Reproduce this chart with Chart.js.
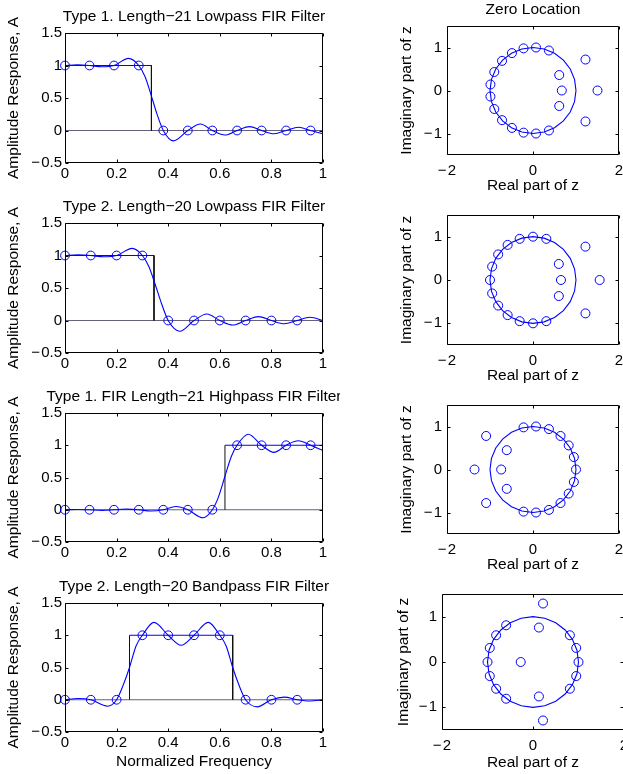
<!DOCTYPE html>
<html>
<head>
<meta charset="utf-8">
<title>FIR filter types - amplitude response and zero locations</title>
<script src="https://cdn.jsdelivr.net/npm/chart.js@4.4.1/dist/chart.umd.min.js"></script>
<style>
  html, body { margin: 0; padding: 0; background: #fff; }
  body { width: 623px; height: 774px; overflow: hidden; position: relative; }
  canvas { position: absolute; }
</style>
</head>
<body>
<canvas id="amp1" width="340" height="215" style="left:0;top:-7px"></canvas>
<canvas id="amp2" width="340" height="215" style="left:0;top:183px"></canvas>
<canvas id="amp3" width="340" height="215" style="left:0;top:373px"></canvas>
<canvas id="amp4" width="340" height="215" style="left:0;top:563px"></canvas>
<canvas id="zero1" width="260" height="215" style="left:380px;top:-14px"></canvas>
<canvas id="zero2" width="260" height="215" style="left:380px;top:175px"></canvas>
<canvas id="zero3" width="260" height="215" style="left:380px;top:365px"></canvas>
<canvas id="zero4" width="260" height="215" style="left:380px;top:554px"></canvas>
<script>
/* ---------- eixos / rótulos ---------- */
const freqTicks = [0, 0.2, 0.4, 0.6, 0.8, 1];
const ampTicks  = [-0.5, 0, 0.5, 1, 1.5];
const reTicks   = [-2, 0, 2];
const imTicks   = [-1, 0, 1];

/* linha de zero (referência) */
const baselineX = [0, 1];
const baselineY = [0, 0];

/* ---------- Type 1, Length-21 Lowpass ---------- */
const lp21SampleX = [0, 0.095, 0.19, 0.286, 0.381, 0.476, 0.571, 0.667, 0.762, 0.857, 0.952];
const lp21SampleY = [1, 1, 1, 1, 0, 0, 0, 0, 0, 0, 0];
const lp21RespX = [0, 0.048, 0.095, 0.143, 0.19, 0.246, 0.286, 0.31, 0.335, 0.356, 0.381, 0.42, 0.476, 0.525, 0.571, 0.62, 0.667, 0.715, 0.762, 0.81, 0.857, 0.905, 0.952, 1];
const lp21RespY = [1, 1.01, 1, 0.98, 1, 1.11, 1, 0.83, 0.53, 0.26, 0, -0.16, 0, 0.1, 0, -0.07, 0, 0.06, 0, -0.05, 0, 0.05, 0, -0.05];
const lp21IdealX = [0, 0.335, 0.335];
const lp21IdealY = [1, 1, 0];

/* ---------- Type 2, Length-20 Lowpass ---------- */
const lp20SampleX = [0, 0.1, 0.2, 0.3, 0.4, 0.5, 0.6, 0.7, 0.8, 0.9];
const lp20SampleY = [1, 1, 1, 1, 0, 0, 0, 0, 0, 0];
const lp20RespX = [0, 0.05, 0.1, 0.15, 0.2, 0.26, 0.3, 0.325, 0.35, 0.375, 0.4, 0.445, 0.5, 0.55, 0.6, 0.65, 0.7, 0.75, 0.8, 0.85, 0.9, 0.95, 1];
const lp20RespY = [1, 1.01, 1, 0.98, 1, 1.11, 1, 0.83, 0.55, 0.25, 0, -0.165, 0, 0.1, 0, -0.07, 0, 0.06, 0, -0.05, 0, 0.05, 0];
const lp20IdealX = [0, 0.345, 0.345];
const lp20IdealY = [1, 1, 0];

/* ---------- Type 1, Length-21 Highpass ---------- */
const hp21SampleX = [0, 0.095, 0.19, 0.286, 0.381, 0.476, 0.571, 0.667, 0.762, 0.857, 0.952];
const hp21SampleY = [0, 0, 0, 0, 0, 0, 0, 1, 1, 1, 1];
const hp21RespX = [0, 0.048, 0.095, 0.143, 0.19, 0.238, 0.286, 0.333, 0.381, 0.43, 0.476, 0.535, 0.571, 0.595, 0.62, 0.645, 0.667, 0.71, 0.762, 0.81, 0.857, 0.905, 0.952, 1];
const hp21RespY = [0, 0.005, 0, -0.01, 0, 0.01, 0, -0.02, 0, 0.05, 0, -0.125, 0, 0.2, 0.52, 0.83, 1, 1.17, 1, 0.89, 1, 1.07, 1, 0.92];
const hp21IdealX = [0.62, 0.62, 1];
const hp21IdealY = [0, 1, 1];

/* ---------- Type 2, Length-20 Bandpass ---------- */
const bp20SampleX = [0, 0.1, 0.2, 0.3, 0.4, 0.5, 0.6, 0.7, 0.8, 0.9];
const bp20SampleY = [0, 0, 0, 1, 1, 1, 1, 0, 0, 0];
const bp20RespX = [0, 0.05, 0.1, 0.165, 0.2, 0.225, 0.25, 0.275, 0.3, 0.345, 0.4, 0.45, 0.5, 0.555, 0.6, 0.625, 0.65, 0.675, 0.7, 0.745, 0.8, 0.85, 0.9, 0.95, 1];
const bp20RespY = [0, 0.02, 0, -0.1, 0, 0.22, 0.5, 0.83, 1, 1.2, 1, 0.845, 1, 1.2, 1, 0.83, 0.5, 0.22, 0, -0.11, 0, 0.04, 0, -0.02, 0];
const bp20IdealX = [0.25, 0.25, 0.65, 0.65];
const bp20IdealY = [0, 1, 1, 0];

/* ---------- círculo unitário ---------- */
const unitCircleX = [1, 0.966, 0.866, 0.707, 0.5, 0.259, 0, -0.259, -0.5, -0.707, -0.866, -0.966, -1,
                     -0.966, -0.866, -0.707, -0.5, -0.259, 0, 0.259, 0.5, 0.707, 0.866, 0.966, 1];
const unitCircleY = [0, 0.259, 0.5, 0.707, 0.866, 0.966, 1, 0.966, 0.866, 0.707, 0.5, 0.259, 0,
                     -0.259, -0.5, -0.707, -0.866, -0.966, -1, -0.966, -0.866, -0.707, -0.5, -0.259, 0];

/* ---------- zeros ---------- */
const lp21ZeroRe = [0.37, 0.07, -0.22, -0.49, -0.72, -0.90, -0.99, -0.99, -0.90, -0.72, -0.49, -0.22, 0.07, 0.37, 0.61, 0.67, 0.61, 1.22, 1.50, 1.22];
const lp21ZeroIm = [0.93, 1.00, 0.98, 0.87, 0.69, 0.43, 0.14, -0.14, -0.43, -0.69, -0.87, -0.98, -1.00, -0.93, 0.36, 0, -0.36, 0.72, 0, -0.72];

const lp20ZeroRe = [0.31, 0, -0.31, -0.59, -0.81, -0.95, -1.00, -0.95, -0.81, -0.59, -0.31, 0, 0.31, 0.60, 0.65, 0.60, 1.22, 1.55, 1.22];
const lp20ZeroIm = [0.95, 1, 0.95, 0.81, 0.59, 0.31, 0, -0.31, -0.59, -0.81, -0.95, -1, -0.95, 0.37, 0, -0.37, 0.77, 0, -0.77];

const hp21ZeroRe = [1.00, 0.95, 0.83, 0.64, 0.37, 0.07, -0.22, 0.95, 0.83, 0.64, 0.37, 0.07, -0.22, -0.61, -0.74, -0.61, -1.09, -1.36, -1.09];
const hp21ZeroIm = [0, 0.29, 0.56, 0.78, 0.94, 1.00, 0.98, -0.29, -0.56, -0.78, -0.94, -1.00, -0.98, 0.45, 0, -0.45, 0.78, 0, -0.78];

const bp20ZeroRe = [-0.59, -0.81, -0.95, -1.00, -0.95, -0.81, -0.59, 0.81, 0.95, 1.00, 0.95, 0.81, 0.13, -0.27, 0.13, 0.22, 0.22];
const bp20ZeroIm = [0.81, 0.59, 0.31, 0, -0.31, -0.59, -0.81, 0.59, 0.31, 0, -0.31, -0.59, 0.76, 0, -0.76, 1.29, -1.29];

/* ---------- cores ---------- */
const BLUE = '#0000ff';
const EDGE = '#111111';
const BASE = '#66607a';
const FONT = '"Liberation Sans", Arial, Helvetica, sans-serif';

Chart.defaults.font.family = FONT;
Chart.defaults.font.size = 15;
Chart.defaults.color = '#000';

const pairs = (xs, ys) => xs.map((x, i) => ({ x, y: ys[i] }));
const fmt = v => String(v).replace('-', '\u2212\u200a');

// caixa preta + ticks para dentro + textos (estilo MATLAB)
const matlabFrame = {
    id: 'matlabFrame',
    afterDraw(chart, args, opt) {
        const { ctx, chartArea: a, scales: { x, y } } = chart;
        const L = Math.round(a.left) + 0.5, R = Math.round(a.right) - 0.5;
        const T = Math.round(a.top) + 0.5, B = Math.round(a.bottom) - 0.5;
        const tk = 3;
        ctx.save();
        ctx.strokeStyle = '#000';
        ctx.lineWidth = 1;
        ctx.beginPath();
        ctx.rect(L, T, R - L, B - T);
        x.ticks.forEach(t => {
            const p = Math.round(x.getPixelForValue(t.value)) + 0.5;
            ctx.moveTo(p, B); ctx.lineTo(p, B - tk);
            ctx.moveTo(p, T); ctx.lineTo(p, T + tk);
        });
        y.ticks.forEach(t => {
            const p = Math.round(y.getPixelForValue(t.value)) + 0.5;
            ctx.moveTo(L, p); ctx.lineTo(L + tk, p);
            ctx.moveTo(R, p); ctx.lineTo(R - tk, p);
        });
        ctx.stroke();

        ctx.fillStyle = '#000';
        ctx.font = '15.5px ' + FONT;
        ctx.textAlign = 'center';
        ctx.textBaseline = 'middle';
        const cx = (a.left + a.right) / 2, cy = (a.top + a.bottom) / 2;
        if (opt.title) ctx.fillText(opt.title, cx, a.top - opt.titleGap);
        if (opt.xLabel) ctx.fillText(opt.xLabel, cx, a.bottom + opt.xLabelGap);
        if (opt.yLabel) {
            ctx.translate(a.left - opt.yLabelGap, cy);
            ctx.rotate(-Math.PI / 2);
            ctx.fillText(opt.yLabel, 0, 0);
        }
        ctx.restore();
    }
};
Chart.register(matlabFrame);

function axis(min, max, ticks, padding, fit) {
    return {
        type: 'linear', min, max,
        grid: { display: false, drawTicks: false },
        border: { display: false },
        afterBuildTicks: s => { s.ticks = ticks.map(v => ({ value: v })); },
        afterFit: fit,
        ticks: { padding, autoSkip: false, maxRotation: 0, callback: fmt }
    };
}

function ampChart(id, c) {
    return new Chart(document.getElementById(id), {
        type: 'line',
        data: {
            datasets: [
                { data: pairs(c.sx, c.sy), showLine: false, pointRadius: 4.4, pointBorderWidth: 1,
                  pointBorderColor: BLUE, pointBackgroundColor: 'rgba(0,0,0,0)', clip: false },
                { data: pairs(c.rx, c.ry), borderColor: BLUE, borderWidth: 1.1, pointRadius: 0,
                  cubicInterpolationMode: 'monotone' },
                { data: pairs(c.ix, c.iy), borderWidth: 1, pointRadius: 0, borderColor: BLUE,
                  segment: { borderColor: s => Math.abs(s.p0.x - s.p1.x) < 0.5 ? EDGE : BLUE } },
                { data: pairs(baselineX, baselineY), borderColor: BASE, borderWidth: 1, pointRadius: 0 }
            ]
        },
        options: {
            responsive: false, animation: false, events: [],
            layout: { padding: { left: 0, top: 40, right: 17, bottom: 215 - 40 - c.h - 30 } },
            plugins: {
                legend: { display: false }, tooltip: { enabled: false },
                matlabFrame: { title: c.title, titleGap: 16, xLabel: c.xLabel, xLabelGap: 30,
                               yLabel: 'Amplitude Response, A', yLabelGap: 51 }
            },
            scales: {
                x: axis(0, 1, freqTicks, 2, s => { s.height = 30; s.paddingLeft = 0; s.paddingRight = 0; }),
                y: axis(-0.5, 1.5, ampTicks, 3, s => { s.width = 65; s.paddingTop = 0; s.paddingBottom = 0; })
            }
        }
    });
}

function zeroChart(id, c) {
    return new Chart(document.getElementById(id), {
        type: 'line',
        data: {
            datasets: [
                { data: pairs(c.re, c.im), showLine: false, pointRadius: 4.5, pointBorderWidth: 1,
                  pointBorderColor: BLUE, pointBackgroundColor: 'rgba(0,0,0,0)', clip: false },
                { data: pairs(unitCircleX, unitCircleY), borderColor: BLUE, borderWidth: 1.1, pointRadius: 0, tension: 0 }
            ]
        },
        options: {
            responsive: false, animation: false, events: [],
            layout: { padding: { left: 0, top: 40, right: 260 - c.yw - c.w, bottom: 215 - 40 - c.h - 30 } },
            plugins: {
                legend: { display: false }, tooltip: { enabled: false },
                matlabFrame: { title: c.title, titleGap: 16, xLabel: 'Real part of z', xLabelGap: c.xg,
                               yLabel: 'Imaginary part of z', yLabelGap: c.yg }
            },
            scales: {
                x: axis(-2, 2, reTicks, 7, s => { s.height = 30; s.paddingLeft = 0; s.paddingRight = 0; }),
                y: axis(-1.5, 1.5, imTicks, 5, s => { s.width = c.yw; s.paddingTop = 0; s.paddingBottom = 0; })
            }
        }
    });
}

ampChart('amp1', { sx: lp21SampleX, sy: lp21SampleY, rx: lp21RespX, ry: lp21RespY, ix: lp21IdealX, iy: lp21IdealY,
                   h: 130, title: 'Type 1. Length\u221221 Lowpass FIR Filter' });
ampChart('amp2', { sx: lp20SampleX, sy: lp20SampleY, rx: lp20RespX, ry: lp20RespY, ix: lp20IdealX, iy: lp20IdealY,
                   h: 130, title: 'Type 2. Length\u221220 Lowpass FIR Filter' });
ampChart('amp3', { sx: hp21SampleX, sy: hp21SampleY, rx: hp21RespX, ry: hp21RespY, ix: hp21IdealX, iy: hp21IdealY,
                   h: 129, title: 'Type 1. FIR Length\u221221 Highpass FIR Filter' });
ampChart('amp4', { sx: bp20SampleX, sy: bp20SampleY, rx: bp20RespX, ry: bp20RespY, ix: bp20IdealX, iy: bp20IdealY,
                   h: 129, title: 'Type 2. Length\u221220 Bandpass FIR Filter', xLabel: 'Normalized Frequency' });

zeroChart('zero1', { re: lp21ZeroRe, im: lp21ZeroIm, yw: 67, w: 172, h: 129, xg: 31, yg: 40, title: 'Zero Location' });
zeroChart('zero2', { re: lp20ZeroRe, im: lp20ZeroIm, yw: 67, w: 172, h: 130, xg: 31, yg: 40 });
zeroChart('zero3', { re: hp21ZeroRe, im: hp21ZeroIm, yw: 67, w: 172, h: 129, xg: 31, yg: 40 });
zeroChart('zero4', { re: bp20ZeroRe, im: bp20ZeroIm, yw: 62, w: 182, h: 136, xg: 33, yg: 38 });
</script>
</body>
</html>
